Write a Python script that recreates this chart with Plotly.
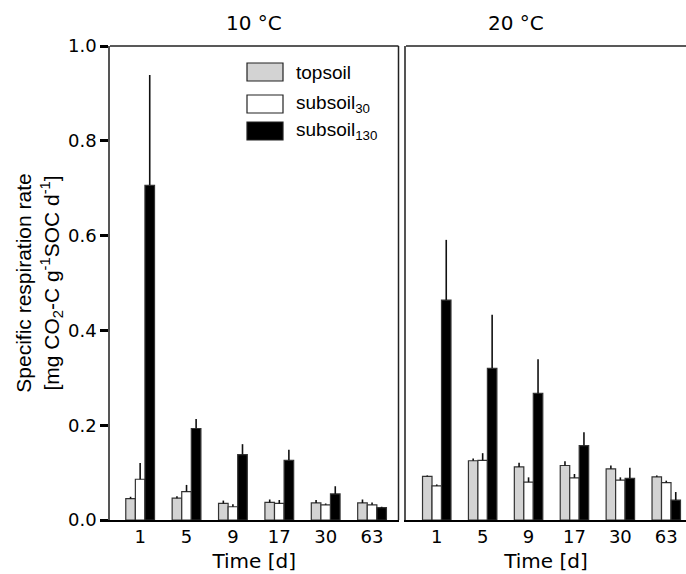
import plotly.graph_objects as go

days = ["1", "5", "9", "17", "30", "63"]
series_names = ["topsoil", "subsoil<sub>30</sub>", "subsoil<sub>130</sub>"]

# 10 °C
t10_top = [0.045, 0.046, 0.035, 0.037, 0.036, 0.036]
t10_top_err = [0.004, 0.004, 0.006, 0.006, 0.006, 0.007]
t10_s30 = [0.086, 0.060, 0.028, 0.035, 0.032, 0.032]
t10_s30_err = [0.034, 0.014, 0.005, 0.007, 0.003, 0.005]
t10_s130 = [0.706, 0.193, 0.138, 0.126, 0.055, 0.026]
t10_s130_err = [0.233, 0.020, 0.022, 0.022, 0.016, 0.002]

# 20 °C
t20_top = [0.092, 0.125, 0.112, 0.115, 0.108, 0.091]
t20_top_err = [0.002, 0.005, 0.009, 0.009, 0.007, 0.003]
t20_s30 = [0.072, 0.126, 0.080, 0.089, 0.084, 0.079]
t20_s30_err = [0.003, 0.015, 0.010, 0.008, 0.006, 0.004]
t20_s130 = [0.464, 0.320, 0.267, 0.157, 0.088, 0.042]
t20_s130_err = [0.127, 0.113, 0.072, 0.028, 0.022, 0.017]

fills = ["#d3d3d3", "#ffffff", "#000000"]
xnum = list(range(len(days)))

fig = go.Figure()

panels = [
    ("x", "y", [t10_top, t10_s30, t10_s130], [t10_top_err, t10_s30_err, t10_s130_err]),
    ("x2", "y2", [t20_top, t20_s30, t20_s130], [t20_top_err, t20_s30_err, t20_s130_err]),
]
for xa, ya, vals, errs in panels:
    for name, v, e, c in zip(series_names, vals, errs, fills):
        fig.add_trace(go.Bar(
            x=xnum, y=v, name=name, xaxis=xa, yaxis=ya,
            marker=dict(color=c, line=dict(color="#333333", width=1.2)),
            error_y=dict(type="data", symmetric=False, array=e,
                         arrayminus=[0] * len(e), color="#111111",
                         thickness=1.6, width=0),
            showlegend=False,
        ))

L0, L1 = 110 / 686, 398.5 / 686
R0, R1 = 406 / 686, 1.0

tickfont = dict(family="DejaVu Sans", size=18, color="#000000")
xcommon = dict(tickmode="array", tickvals=xnum, ticktext=days,
               ticks="",
               showgrid=False, zeroline=False, showline=True,
               linecolor="#000000", linewidth=1.5, tickfont=tickfont,
               title=dict(text="Time [d]", standoff=8,
                          font=dict(family="DejaVu Sans", size=20, color="#000000")))

fig.update_layout(
    width=686, height=574,
    margin=dict(l=0, r=0, t=46, b=54),
    paper_bgcolor="white", plot_bgcolor="white",
    barmode="group", bargap=0.38, bargroupgap=0,
    xaxis=dict(domain=[L0, L1], range=[-0.65, 5.57], anchor="y", **xcommon),
    xaxis2=dict(domain=[R0, R1], range=[-0.67, 5.43], anchor="y2", **xcommon),
    yaxis=dict(domain=[0, 1], range=[0, 1.0], anchor="x",
               tickmode="array", tickvals=[0, 0.2, 0.4, 0.6, 0.8, 1.0],
               ticktext=["0.0", "0.2", "0.4", "0.6", "0.8", "1.0"],
               ticks="outside", ticklen=8, tickwidth=2.5, tickcolor="#000000",
               showgrid=False, zeroline=False, showline=True,
               linecolor="#555555", linewidth=1.5, tickfont=tickfont,
               title=dict(text="Specific respiration rate<br>[mg CO<sub>2</sub>-C g<sup>-1</sup>SOC d<sup>-1</sup>]",
                          standoff=3,
                          font=dict(family="Liberation Sans", size=21, color="#000000"))),
    yaxis2=dict(domain=[0, 1], range=[0, 1.0], anchor="x2",
                showticklabels=False, ticks="", showgrid=False, zeroline=False,
                showline=True, linecolor="#555555", linewidth=1.5),
)

# panel frames (top & right borders)
fig.add_shape(type="line", xref="paper", yref="paper", x0=L0, x1=L1, y0=1, y1=1,
              line=dict(color="#222222", width=1.5))
fig.add_shape(type="line", xref="paper", yref="paper", x0=L1, x1=L1, y0=0, y1=1,
              line=dict(color="#222222", width=1.5))
fig.add_shape(type="line", xref="paper", yref="paper", x0=R0, x1=R1, y0=1, y1=1,
              line=dict(color="#222222", width=1.5))

# panel titles
for txt, xc in [("10 °C", (L0 + L1) / 2), ("20 °C", (R0 + 1.0) / 2)]:
    fig.add_annotation(text=txt, xref="paper", yref="paper", x=xc, y=1.0,
                       yshift=23, showarrow=False, yanchor="middle",
                       font=dict(family="DejaVu Sans", size=20, color="#000000"))

# legend (drawn manually for wide swatches)
leg_y = [72, 104, 131]  # pixel centres
for name, c, py in zip(series_names, fills, leg_y):
    y0 = 1 - (py - 46 - 9) / 474
    y1 = 1 - (py - 46 + 9) / 474
    fig.add_shape(type="rect", xref="paper", yref="paper",
                  x0=247 / 686, x1=283 / 686, y0=y1, y1=y0,
                  fillcolor=c, line=dict(color="#222222", width=1.2))
    fig.add_annotation(text=name, xref="paper", yref="paper",
                       x=294 / 686, y=1 - (py - 46) / 474, xanchor="left",
                       yanchor="middle", showarrow=False,
                       font=dict(family="Liberation Sans", size=19, color="#000000"))

fig.write_html("out.html")
